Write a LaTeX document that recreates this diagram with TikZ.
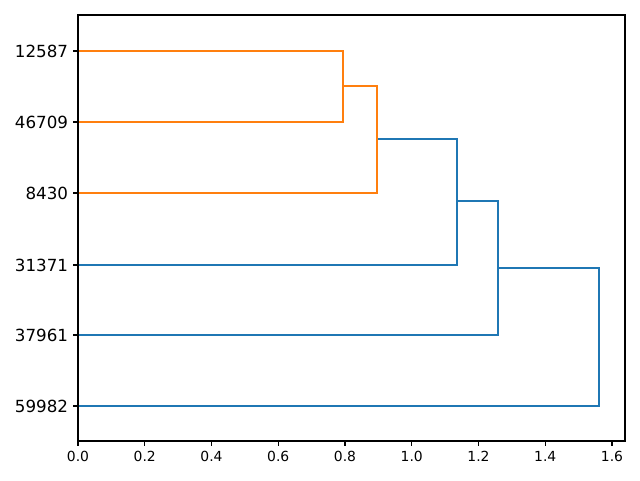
\documentclass[tikz,border=0pt]{standalone}
\usepackage{fontspec}
\setmainfont{DejaVu Sans}
\definecolor{mplorange}{HTML}{FF7F0E}
\definecolor{mplblue}{HTML}{1F77B4}
\begin{document}
\begin{tikzpicture}[x=1pt,y=-1pt,
  orangelink/.style={draw=mplorange,line width=1.5pt},
  bluelink/.style={draw=mplblue,line width=1.5pt},
  spine/.style={draw=black,line width=1.1pt},
  tickline/.style={draw=black,line width=1.1pt},
  ylab/.style={anchor=east,inner sep=0pt,font=\fontsize{16.7}{20}\selectfont},
  xlab/.style={anchor=north,inner sep=0pt,font=\fontsize{13.9}{16}\selectfont}]
\useasboundingbox[fill=white] (0,0) rectangle (640,480);
% leaves
\coordinate (l1) at (78,51);
\coordinate (l2) at (78,122);
\coordinate (l3) at (78,193);
\coordinate (l4) at (78,265);
\coordinate (l5) at (78,335);
\coordinate (l6) at (78,406);
% merges
\draw[bluelink] (377,139) -| (457,202) |- (l4);
\draw[bluelink] (457,201) -| (498,268) |- (l5);
\draw[bluelink] (498,268) -| (599,337) |- (l6);
\draw[orangelink] (l1) -| (343,86) |- (l2);
\draw[orangelink] (343,86) -| (377,140) |- (l3);
% frame
\draw[spine] (78,15) rectangle (625,441);
% y ticks and labels
\foreach \yy/\lab [count=\i] in {51/12587,122/46709,193/8430,265/31371,335/37961,406/59982}{
  \draw[tickline] (78,\yy) -- (73.1,\yy);
  \node[ylab] (yl\i) at (68.3,\yy) {\lab};
}
% x ticks and labels
\foreach \v/\lab [count=\i] in {0/0.0,0.2/0.2,0.4/0.4,0.6/0.6,0.8/0.8,1.0/1.0,1.2/1.2,1.4/1.4,1.6/1.6}{
  \pgfmathsetmacro{\xx}{78+\v*333.75}
  \draw[tickline] (\xx,441) -- (\xx,445.9);
  \node[xlab] (xl\i) at (\xx,450.7) {\lab};
}
\end{tikzpicture}
\end{document}
